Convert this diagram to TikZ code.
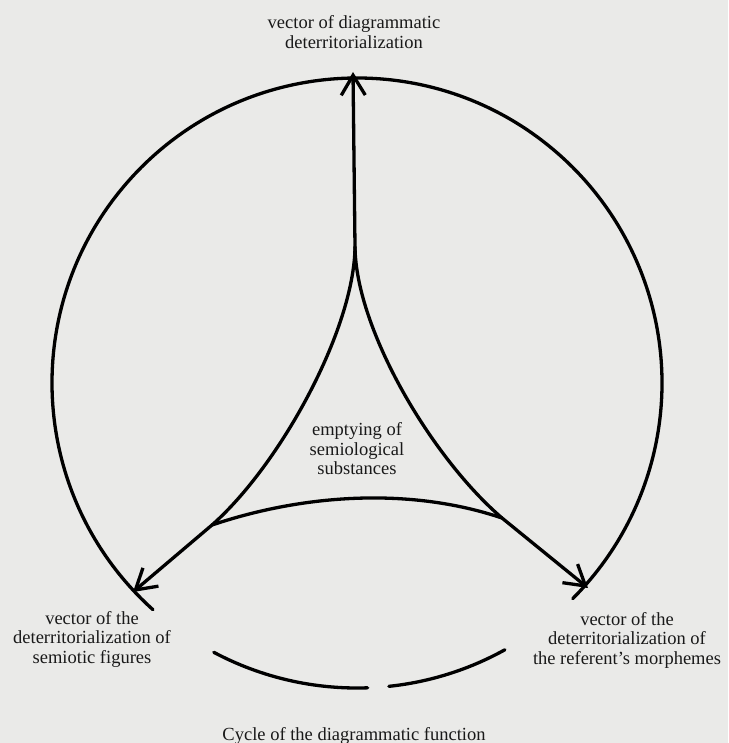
\documentclass[tikz,border=0pt]{standalone}
\usepackage{fontspec}
\setmainfont{Liberation Serif}
\usetikzlibrary{arrows.meta,calc}
\definecolor{paper}{RGB}{234,234,232}
\definecolor{ink}{RGB}{25,25,25}
\begin{document}
\begin{tikzpicture}[x=1pt,y=-1pt,
  stroke/.style={line width=3.3pt, black, line cap=round, line join=round},
  arr/.style={stroke, -{Straight Barb[length=20pt,width=24pt]}},
  lbl/.style={font=\fontsize{18.5}{19.5}\selectfont, text=ink, align=center, inner sep=0pt}]
\fill[paper] (0,0) rectangle (728,743);
\useasboundingbox (0,0) rectangle (728,743);
% outer cycle
\coordinate (c) at (357,383);
\draw[stroke] ($(c)+(228:305pt)$) arc[start angle=228,end angle=-45,radius=305pt];
\draw[stroke] ($(c)+(242:305pt)$) arc[start angle=242,end angle=272,radius=305pt];
\draw[stroke] ($(c)+(276:305pt)$) arc[start angle=276,end angle=299,radius=305pt];
% inner figure
\coordinate (cusp) at (355,247);
\coordinate (tipT) at (353,72);
\coordinate (cornL) at (212,525);
\coordinate (cornR) at (502,518);
\coordinate (tipL) at (133,592);
\coordinate (tipR) at (588,588);
\draw[arr] (cusp) -- (tipT);
\draw[arr] (cusp) .. controls (354,330) and (280,465) .. (cornL) -- (tipL);
\draw[arr] (cusp) .. controls (356,330) and (432,458) .. (cornR) -- (tipR);
\draw[stroke] (cornL) .. controls (304,494) and (410,487) .. (cornR);
% labels
\node[lbl] (ttop) at (354,32) {vector of diagrammatic\\deterritorialization};
\node[lbl] (tleft) at (92,639) {vector of the\\deterritorialization of\\semiotic figures};
\node[lbl] (tright) at (627,640) {vector of the\\deterritorialization of\\the referent’s morphemes};
\node[lbl] (tcenter) at (357,449) {emptying of\\semiological\\substances};
\node[lbl, anchor=base] (tbottom) at (354,740) {Cycle of the diagrammatic function};
\end{tikzpicture}
\end{document}
